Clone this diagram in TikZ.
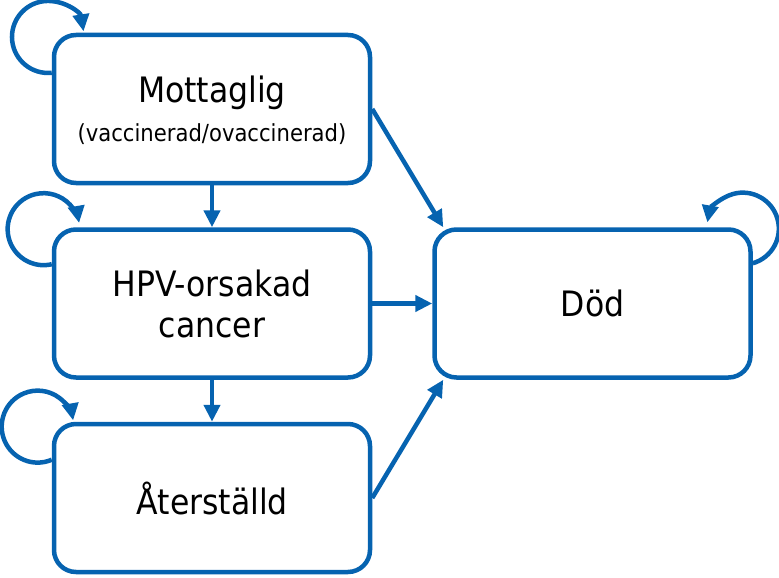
\documentclass[tikz,border=0pt]{standalone}
\usepackage{fontspec}
\setmainfont{DejaVu Sans Condensed}
\usetikzlibrary{positioning,arrows.meta}
\definecolor{stateblue}{RGB}{6,99,176}

\begin{document}
\begin{tikzpicture}[
  x=1pt, y=1pt,
  font=\fontsize{35}{43}\selectfont,
  state/.style={draw=stateblue, line width=4.5pt, rounded corners=22pt, align=center, minimum width=316pt, minimum height=148pt, inner sep=0pt},
  arr/.style={-{Triangle[length=17pt, width=16pt]}, draw=stateblue, line width=4.5pt},
  node distance=42pt and 60pt]
  \useasboundingbox (0,0) rectangle (779,-578);
  \node[state, text depth=0pt] (mot) at (212,-109) {Mottaglig\\[-4pt]{\fontsize{23.5}{28}\selectfont (vaccinerad/ovaccinerad)}};
  \node[state, below=of mot] (hpv) {HPV-orsakad\\[-2pt] cancer};
  \node[state, below=of hpv] (ater) {Återställd};
  \node[state, right=of hpv] (dod) {Död};
  \draw[arr] (mot) -- (hpv);
  \draw[arr] (hpv) -- (ater);
  \draw[arr] (mot.east) -- ([xshift=11pt]dod.north west);
  \draw[arr] (hpv) -- (dod);
  \draw[arr] (ater.east) -- ([xshift=11pt]dod.south west);
  % self loops
  \draw[arr] ([yshift=-40pt]mot.north west) arc[start angle=-84, end angle=-351, radius=36pt];
  \draw[arr] ([yshift=-37pt]hpv.north west) arc[start angle=-77, end angle=-350, radius=36pt];
  \draw[arr] ([yshift=-38pt]ater.north west) arc[start angle=-67, end angle=-350, radius=36pt];
  \draw[arr] ([yshift=-36pt]dod.north east) arc[start angle=-74, end angle=170, radius=36pt];
\end{tikzpicture}
\end{document}
